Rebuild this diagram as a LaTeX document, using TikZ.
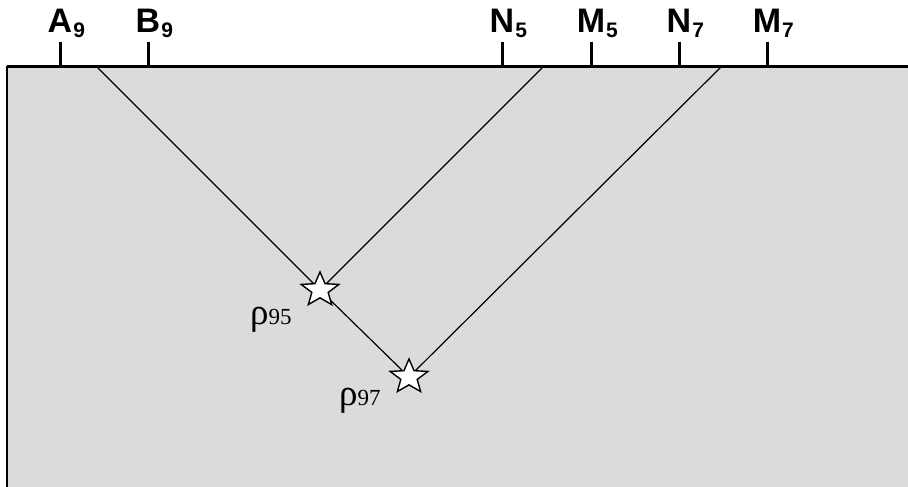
\documentclass[tikz,border=0pt]{standalone}
\usepackage{fontspec}
\setmainfont{Liberation Sans}
\newfontfamily\serifrho{Liberation Serif}
\usetikzlibrary{shapes.geometric}
\definecolor{ground}{gray}{0.86}
\tikzset{
  ray/.style={line width=1.2pt, black},
  tickmark/.style={line width=3pt, black},
  starnode/.style={star, star points=5, star point ratio=2.3, minimum size=36pt, inner sep=0pt, fill=white, draw=black, line width=1.4pt, xscale=1.1},
  ticklabel/.style={anchor=base, inner sep=0pt, font=\fontsize{34}{34}\selectfont\bfseries},
  rholabel/.style={anchor=base west, inner sep=0pt, font=\serifrho},
}
\newcommand{\tsub}[1]{\rlap{\kern1pt\raisebox{-5pt}{\fontsize{21}{21}\selectfont\bfseries #1}}}
\newcommand{\rholab}[1]{{\fontsize{37}{37}\selectfont ρ}{\fontsize{23}{23}\selectfont #1}}
\begin{document}
\begin{tikzpicture}[x=1pt,y=-1pt]
\useasboundingbox (0,0) rectangle (908,487);
\fill[ground] (7,67) rectangle (908,487);
\draw[line width=3pt] (7,67) -- (908,67);
\draw[line width=2pt] (7,66) -- (7,487);
% tick labels
\foreach \nm/\x/\L/\s in {a/60/A/9, b/148/B/9, n5/502/N/5, m5/591/M/5, n7/679/N/7, m7/767/M/7}{
  \coordinate (t\nm) at (\x,42);
  \coordinate (g\nm) at (\x,67);
  \draw[tickmark] (t\nm) -- (g\nm);
  \node[ticklabel] (l\nm) at (\x,33) {\L\tsub{\s}};
}
% rays
\coordinate (r1) at (97,67);
\coordinate (r2) at (543,67);
\coordinate (r3) at (721,67);
\coordinate (c1) at (320,290);
\coordinate (c2) at (409,377);
\draw[ray] (r1) -- (c1) -- (c2);
\draw[ray] (r2) -- (c1);
\draw[ray] (r3) -- (c2);
\node[starnode] (s1) at (c1) {};
\node[starnode] (s2) at (c2) {};
\node[rholabel] (p95) at (250,324) {\rholab{95}};
\node[rholabel] (p97) at (339,405) {\rholab{97}};
\end{tikzpicture}
\end{document}
